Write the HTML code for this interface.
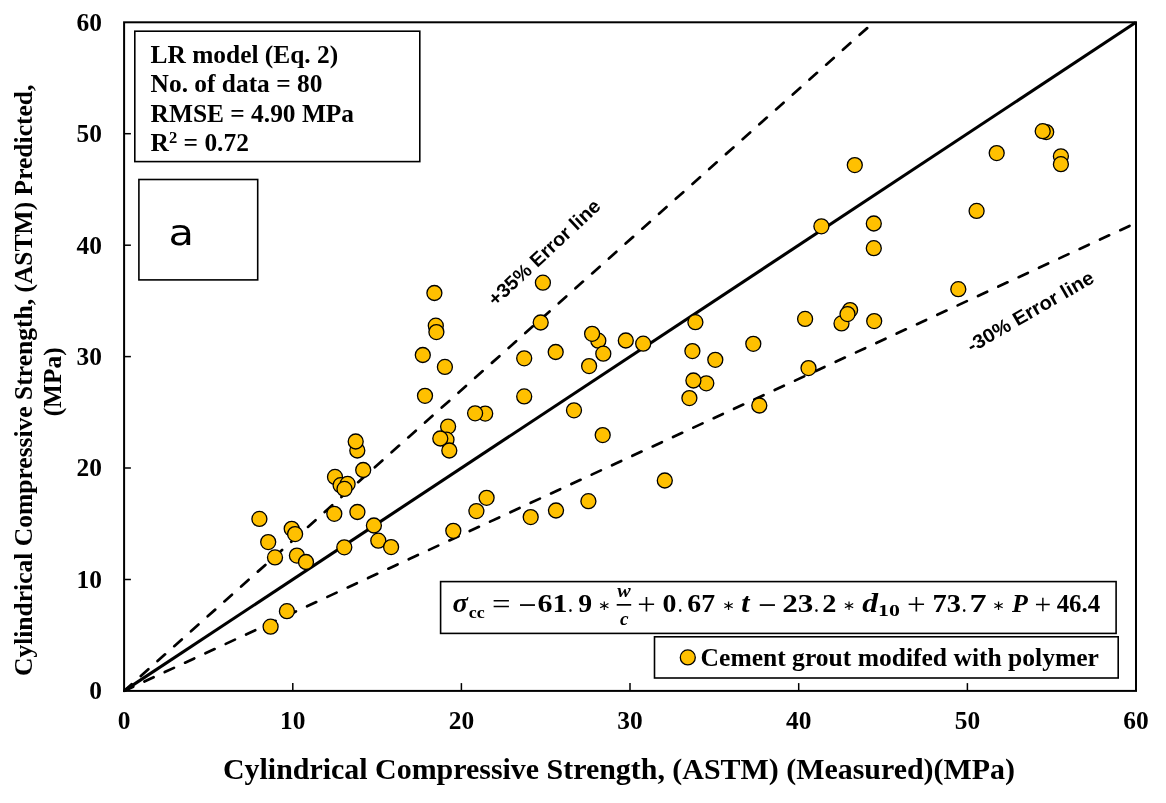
<!DOCTYPE html>
<html lang="en"><head><meta charset="utf-8"><title>LR model chart</title>
<style>
html,body{margin:0;padding:0;background:#fff;}
svg{display:block;}
.s{font-family:'Liberation Serif', 'DejaVu Serif', serif;font-weight:bold;fill:#000;}
.si{font-family:'Liberation Serif', 'DejaVu Serif', serif;font-weight:bold;font-style:italic;fill:#000;}
.c{font-family:'Liberation Sans', 'DejaVu Sans', sans-serif;font-weight:bold;fill:#000;}
.sr{font-family:'Liberation Serif', 'DejaVu Serif', serif;font-weight:normal;fill:#000;}
.dj{font-family:'DejaVu Sans',sans-serif;fill:#000;}
.djs{font-family:'DejaVu Serif','DejaVu Sans',serif;fill:#000;}
.pt circle{fill:#FFC000;stroke:#000;stroke-width:1.3;}
.bx{fill:#fff;stroke:#000;stroke-width:1.6;}
</style></head><body>
<svg width="1166" height="803" viewBox="0 0 1166 803">
<rect x="0" y="0" width="1166" height="803" fill="#fff"/>
<clipPath id="pc"><rect x="123.1" y="21.3" width="1013.9" height="671.0"/></clipPath>
<g fill="none" stroke="#000" clip-path="url(#pc)">
<line x1="124.1" y1="690.9" x2="1136.0" y2="22.3" stroke-width="3.1"/>
<line x1="124.1" y1="690.9" x2="873.7" y2="22.3" stroke-width="2.7" stroke-dasharray="10.1 12.3" stroke-linecap="round"/>
<line x1="124.1" y1="690.9" x2="1136.0" y2="222.9" stroke-width="2.7" stroke-dasharray="10.1 12.3" stroke-linecap="round"/>
</g>
<g class="pt">
<circle cx="259.4" cy="518.9" r="7.5"/>
<circle cx="291.7" cy="528.8" r="7.5"/>
<circle cx="295.1" cy="534.1" r="7.5"/>
<circle cx="268.2" cy="542.1" r="7.5"/>
<circle cx="275.0" cy="557.4" r="7.5"/>
<circle cx="296.9" cy="555.6" r="7.5"/>
<circle cx="306.0" cy="562.0" r="7.5"/>
<circle cx="334.3" cy="513.8" r="7.5"/>
<circle cx="357.4" cy="512.0" r="7.5"/>
<circle cx="373.9" cy="525.5" r="7.5"/>
<circle cx="344.3" cy="547.3" r="7.5"/>
<circle cx="378.3" cy="540.7" r="7.5"/>
<circle cx="391.1" cy="547.1" r="7.5"/>
<circle cx="286.9" cy="611.2" r="7.5"/>
<circle cx="270.6" cy="626.7" r="7.5"/>
<circle cx="357.3" cy="450.5" r="7.5"/>
<circle cx="355.7" cy="441.5" r="7.5"/>
<circle cx="363.2" cy="470.0" r="7.5"/>
<circle cx="335.0" cy="476.9" r="7.5"/>
<circle cx="340.6" cy="485.2" r="7.5"/>
<circle cx="347.6" cy="483.9" r="7.5"/>
<circle cx="344.5" cy="488.9" r="7.5"/>
<circle cx="448.1" cy="426.6" r="7.5"/>
<circle cx="446.5" cy="439.7" r="7.5"/>
<circle cx="440.3" cy="438.5" r="7.5"/>
<circle cx="449.3" cy="450.5" r="7.5"/>
<circle cx="485.2" cy="413.6" r="7.5"/>
<circle cx="475.1" cy="413.3" r="7.5"/>
<circle cx="486.6" cy="497.8" r="7.5"/>
<circle cx="476.4" cy="511.1" r="7.5"/>
<circle cx="453.3" cy="530.8" r="7.5"/>
<circle cx="434.4" cy="293.0" r="7.5"/>
<circle cx="435.8" cy="325.7" r="7.5"/>
<circle cx="436.4" cy="332.1" r="7.5"/>
<circle cx="422.8" cy="355.0" r="7.5"/>
<circle cx="444.9" cy="366.9" r="7.5"/>
<circle cx="425.0" cy="395.8" r="7.5"/>
<circle cx="542.9" cy="282.7" r="7.5"/>
<circle cx="540.7" cy="322.5" r="7.5"/>
<circle cx="524.2" cy="358.3" r="7.5"/>
<circle cx="555.7" cy="352.0" r="7.5"/>
<circle cx="524.2" cy="396.4" r="7.5"/>
<circle cx="574.0" cy="410.3" r="7.5"/>
<circle cx="589.1" cy="366.1" r="7.5"/>
<circle cx="598.3" cy="340.7" r="7.5"/>
<circle cx="592.1" cy="333.8" r="7.5"/>
<circle cx="603.3" cy="353.7" r="7.5"/>
<circle cx="625.8" cy="340.5" r="7.5"/>
<circle cx="643.2" cy="343.7" r="7.5"/>
<circle cx="695.4" cy="322.2" r="7.5"/>
<circle cx="692.4" cy="351.1" r="7.5"/>
<circle cx="715.3" cy="359.8" r="7.5"/>
<circle cx="706.3" cy="383.3" r="7.5"/>
<circle cx="693.4" cy="380.5" r="7.5"/>
<circle cx="689.4" cy="398.1" r="7.5"/>
<circle cx="753.3" cy="343.8" r="7.5"/>
<circle cx="759.3" cy="405.5" r="7.5"/>
<circle cx="602.7" cy="435.1" r="7.5"/>
<circle cx="530.7" cy="517.1" r="7.5"/>
<circle cx="556.0" cy="510.5" r="7.5"/>
<circle cx="588.4" cy="501.2" r="7.5"/>
<circle cx="664.8" cy="480.5" r="7.5"/>
<circle cx="805.1" cy="318.9" r="7.5"/>
<circle cx="808.5" cy="368.1" r="7.5"/>
<circle cx="841.5" cy="323.4" r="7.5"/>
<circle cx="850.1" cy="310.1" r="7.5"/>
<circle cx="847.5" cy="314.1" r="7.5"/>
<circle cx="874.2" cy="321.1" r="7.5"/>
<circle cx="958.3" cy="289.2" r="7.5"/>
<circle cx="854.8" cy="165.1" r="7.5"/>
<circle cx="821.4" cy="226.3" r="7.5"/>
<circle cx="873.8" cy="223.5" r="7.5"/>
<circle cx="873.8" cy="248.2" r="7.5"/>
<circle cx="976.6" cy="210.9" r="7.5"/>
<circle cx="996.7" cy="153.1" r="7.5"/>
<circle cx="1046.2" cy="132.1" r="7.5"/>
<circle cx="1042.7" cy="131.2" r="7.5"/>
<circle cx="1060.9" cy="156.3" r="7.5"/>
<circle cx="1060.9" cy="164.2" r="7.5"/>
</g>
<rect x="124.1" y="22.3" width="1011.9" height="668.6" fill="none" stroke="#000" stroke-width="2"/>
<g stroke="#000" stroke-width="1.5">
<line x1="292.8" y1="690.9" x2="292.8" y2="683.1"/>
<line x1="124.1" y1="579.5" x2="130.9" y2="579.5"/>
<line x1="461.4" y1="690.9" x2="461.4" y2="683.1"/>
<line x1="124.1" y1="468.0" x2="130.9" y2="468.0"/>
<line x1="630.0" y1="690.9" x2="630.0" y2="683.1"/>
<line x1="124.1" y1="356.6" x2="130.9" y2="356.6"/>
<line x1="798.7" y1="690.9" x2="798.7" y2="683.1"/>
<line x1="124.1" y1="245.2" x2="130.9" y2="245.2"/>
<line x1="967.4" y1="690.9" x2="967.4" y2="683.1"/>
<line x1="124.1" y1="133.7" x2="130.9" y2="133.7"/>
</g>
<g class="s" font-size="25.4">
<text x="124.1" y="728.8" text-anchor="middle">0</text>
<text x="292.8" y="728.8" text-anchor="middle">10</text>
<text x="461.4" y="728.8" text-anchor="middle">20</text>
<text x="630.0" y="728.8" text-anchor="middle">30</text>
<text x="798.7" y="728.8" text-anchor="middle">40</text>
<text x="967.4" y="728.8" text-anchor="middle">50</text>
<text x="1136.0" y="728.8" text-anchor="middle">60</text>
<text x="101.9" y="699.3" text-anchor="end">0</text>
<text x="101.9" y="587.9" text-anchor="end">10</text>
<text x="101.9" y="476.4" text-anchor="end">20</text>
<text x="101.9" y="365.0" text-anchor="end">30</text>
<text x="101.9" y="253.6" text-anchor="end">40</text>
<text x="101.9" y="142.1" text-anchor="end">50</text>
<text x="101.9" y="30.7" text-anchor="end">60</text>
</g>
<text class="s" font-size="29.93" x="619" y="778.9" text-anchor="middle">Cylindrical Compressive Strength, (ASTM) (Measured)(MPa)</text>
<text class="s" font-size="25.54" transform="translate(32 380.3) rotate(-90)" text-anchor="middle">Cylindrical Compressive Strength, (ASTM) Predicted,</text>
<text class="s" font-size="25.4" transform="translate(61.3 381.8) rotate(-90)" text-anchor="middle">(MPa)</text>
<rect class="bx" x="134.8" y="31.2" width="285" height="130.4"/>
<g class="s" font-size="25.4">
<text x="150.6" y="62.8">LR model (Eq. 2)</text>
<text x="150.6" y="92.3">No. of data = 80</text>
<text x="150.6" y="121.8">RMSE = 4.90 MPa</text>
<text x="150.6" y="151.3">R<tspan font-size="16.6" dy="-8.5">2</tspan><tspan dy="8.5"> = 0.72</tspan></text>
</g>
<rect class="bx" x="138.9" y="179.5" width="118.8" height="100.4"/>
<text class="dj" font-size="34" transform="translate(168.51 245.07) scale(1.221 1.038)">a</text>
<text class="c" font-size="19.5" transform="translate(495.5 307) rotate(-43)" textLength="145.5" lengthAdjust="spacingAndGlyphs">+35% Error line</text>
<text class="c" font-size="19.5" transform="translate(971.7 353) rotate(-30)" textLength="143" lengthAdjust="spacingAndGlyphs">-30% Error line</text>
<rect class="bx" x="440.6" y="581.6" width="675.5" height="51.8"/>
<g id="eq">
<text class="si" font-size="27" transform="translate(452.45 611.80) scale(1.055 1.000)">σ</text>
<text class="s" font-size="17.5" transform="translate(468.77 618.00) scale(1.026 1.000)">cc</text>
<text class="sr" font-size="32.7" transform="translate(492.05 614.10) scale(1.006 0.881)">=</text>
<text class="sr" font-size="32.7" transform="translate(518.19 616.68) scale(0.986 1.101)">−</text>
<text class="s" font-size="24.5" transform="translate(537.55 611.80) scale(1.222 1.000)">61</text>
<text class="sr" font-size="24.5" transform="translate(567.69 611.80) scale(0.884 1.000)">.</text>
<text class="s" font-size="24.5" transform="translate(578.31 611.80) scale(1.132 1.000)">9</text>
<text class="dj" font-size="15" transform="translate(597.91 609.50) scale(1.023 0.917)">∗</text>
<text class="si" font-size="19.5" transform="translate(617.30 596.80) scale(1.033 1.000)">w</text>
<rect x="616.7" y="604.0" width="14.5" height="1.7" fill="#000"/>
<text class="si" font-size="19.5" transform="translate(619.91 624.50) scale(0.989 1.000)">c</text>
<text class="sr" font-size="32.7" transform="translate(637.37 615.37) scale(1.000 0.989)">+</text>
<text class="s" font-size="24.5" transform="translate(662.49 611.80) scale(1.137 1.000)">0</text>
<text class="sr" font-size="24.5" transform="translate(677.39 611.80) scale(0.884 1.000)">.</text>
<text class="s" font-size="24.5" transform="translate(687.33 611.80) scale(1.133 1.000)">67</text>
<text class="dj" font-size="15" transform="translate(722.31 609.50) scale(1.023 0.917)">∗</text>
<text class="si" font-size="27" transform="translate(741.31 611.80) scale(1.104 1.000)">t</text>
<text class="sr" font-size="32.7" transform="translate(757.97 616.68) scale(1.000 1.101)">−</text>
<text class="s" font-size="24.5" transform="translate(782.15 611.80) scale(1.271 1.000)">23</text>
<text class="sr" font-size="24.5" transform="translate(813.79 611.80) scale(0.884 1.000)">.</text>
<text class="s" font-size="24.5" transform="translate(822.37 611.80) scale(1.156 1.000)">2</text>
<text class="dj" font-size="15" transform="translate(842.81 609.50) scale(1.023 0.917)">∗</text>
<text class="si" font-size="27" transform="translate(862.18 611.80) scale(1.170 1.000)">d</text>
<text class="s" font-size="17.5" transform="translate(878.05 616.20) scale(1.247 1.000)">10</text>
<text class="sr" font-size="32.7" transform="translate(906.94 615.37) scale(1.013 0.989)">+</text>
<text class="s" font-size="24.5" transform="translate(932.53 611.80) scale(1.162 1.000)">73</text>
<text class="sr" font-size="24.5" transform="translate(961.49 611.80) scale(0.884 1.000)">.</text>
<text class="s" font-size="24.5" transform="translate(969.41 611.80) scale(1.399 1.000)">7</text>
<text class="dj" font-size="15" transform="translate(992.31 609.50) scale(1.023 0.917)">∗</text>
<text class="si" font-size="25" transform="translate(1012.10 611.80) scale(1.039 1.000)">P</text>
<text class="sr" font-size="29" transform="translate(1034.52 613.59) scale(1.023 1.012)">+</text>
<text class="s" font-size="25.4" transform="translate(1056.63 611.80) scale(0.980 1.000)">46.4</text>
</g>
<rect class="bx" x="654.5" y="636.8" width="463.7" height="41.2"/>
<g class="pt"><circle cx="687.8" cy="657.4" r="7.5"/></g>
<text class="s" font-size="25.55" x="700.6" y="665.6">Cement grout modifed with polymer</text>
</svg></body></html>
